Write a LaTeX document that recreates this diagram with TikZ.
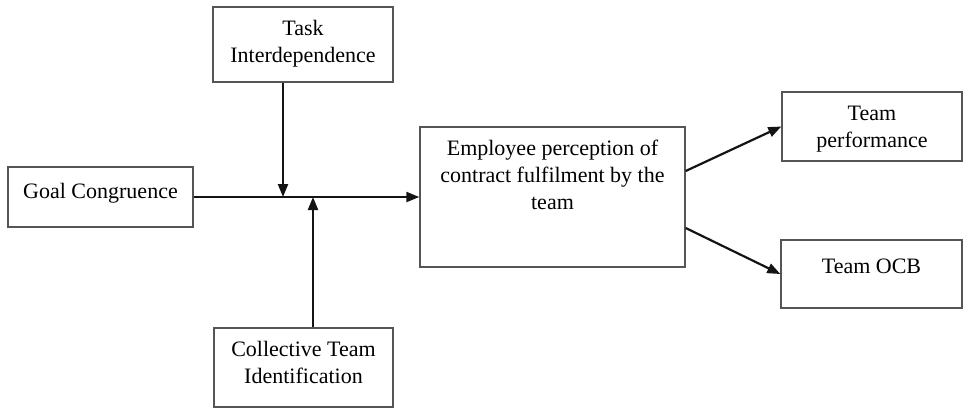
\documentclass[tikz,border=0pt]{standalone}
\usepackage{fontspec}
\setmainfont{Liberation Serif}
\usepackage{xcolor}
\definecolor{Col1}{RGB}{85,85,85}
\definecolor{Col2}{RGB}{20,20,20}
\usepackage{tikz}
\usetikzlibrary{arrows.meta}
\usetikzlibrary{calc}
\tikzstyle{Box}=[rectangle,draw=Col1,line width=0.7pt,inner sep=0pt,align=center,
font=\fontsize{11}{13.5}\selectfont]
\tikzstyle{Arrow}=[draw=Col2,line width=1.1pt,-{Triangle[length=6.5pt,width=5pt]}]

\begin{document}
\begin{tikzpicture}[x=0.5pt,y=-0.5pt]
        \useasboundingbox(0,0)rectangle(964,408);
        \node[Box,minimum width=90pt,text height=27.5pt,text depth=10pt](task)at(303,44.5){Task\\Interdependence};
        \node[Box,minimum width=92.5pt,text height=15.5pt,text depth=14.5pt](goal)at(100.5,197){Goal Congruence};
        \node[Box,minimum width=89.5pt,text height=27.5pt,text depth=12pt](coll)at(303.5,367.5){Collective Team\\Identification};
        \node[Box,minimum width=132.5pt,text height=41pt,text depth=29pt](emp)at(552.5,197){Employee perception of\\contract fulfilment by the\\team};
        \node[Box,minimum width=90pt,text height=27.5pt,text depth=7pt](perf)at(872,126.5){Team\\performance};
        \node[Box,minimum width=90.5pt,text height=16.5pt,text depth=17.5pt](ocb)at(871.5,274){Team OCB};
        \coordinate(m1)at(283,197);
        \coordinate(m2)at(313,197);
        \draw[Arrow](goal.east)--(emp.west);
        \draw[Arrow](task.south-|m1)--(m1);
        \draw[Arrow](coll.north-|m2)--(m2);
        \draw[Arrow]($(emp.east)+(0,-26)$)--(perf.west);
        \draw[Arrow]($(emp.east)+(0,31)$)--(ocb.west);
    \end{tikzpicture}
\end{document}
